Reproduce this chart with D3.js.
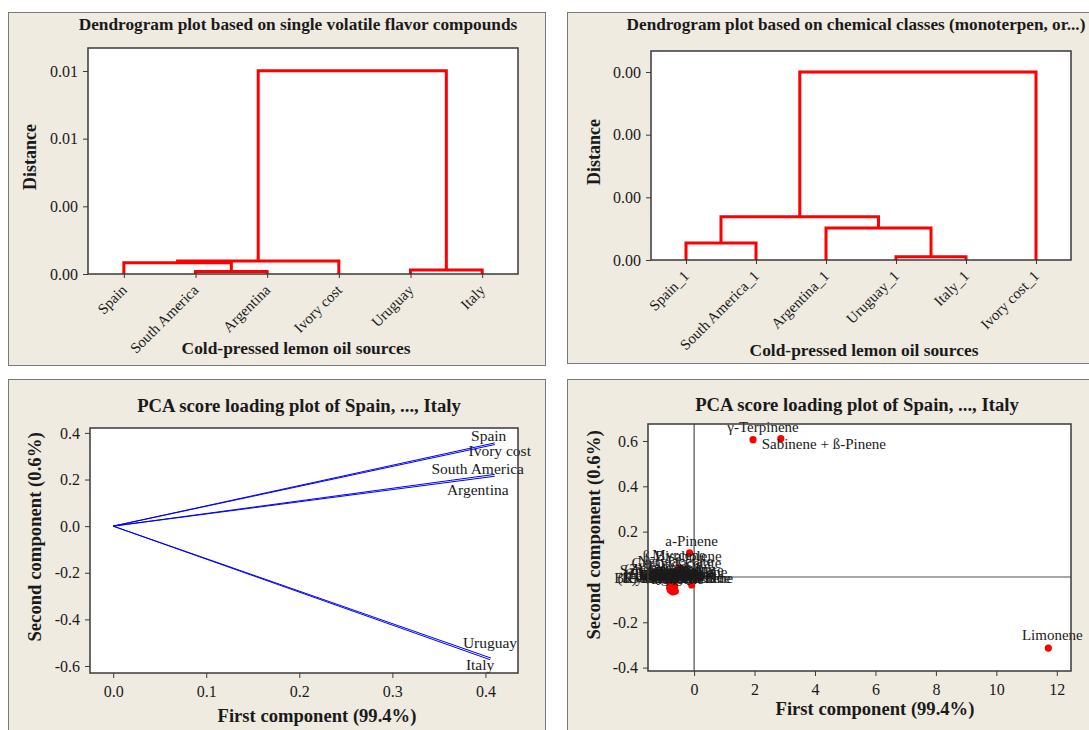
<!DOCTYPE html>
<html>
<head>
<meta charset="utf-8">
<script src="https://cdn.jsdelivr.net/npm/d3@7"></script>
<style>
  body { margin: 0; background: #fff; }
  text { font-family: "Liberation Serif", "Times New Roman", serif; fill: #1a1a1a; }
</style>
</head>
<body>
<div id="app"></div>
<script>
// dendrogram 1 : single volatile flavor compounds
const leaves1 = ["Spain", "South America", "Argentina", "Ivory cost", "Uruguay", "Italy"];
// [left, right, distance] ; numbers point at an earlier merge
const merges1 = [
  ["South America", "Argentina", 0.00015],
  ["Spain", 0, 0.00066],
  [1, "Ivory cost", 0.00077],
  ["Uruguay", "Italy", 0.00024],
  [2, 3, 0.01202],
];
const yTicks1 = [0, 0.004, 0.008, 0.012];

// dendrogram 2 : chemical classes
const leaves2 = ["Spain_1", "South America_1", "Argentina_1", "Uruguay_1", "Italy_1", "Ivory cost_1"];
const merges2 = [
  ["Spain_1", "South America_1", 0.00027],
  ["Uruguay_1", "Italy_1", 0.00005],
  ["Argentina_1", 1, 0.00051],
  [0, 2, 0.00069],
  [3, "Ivory cost_1", 0.003],
];
const yTicks2 = [0, 0.001, 0.002, 0.003];

// PCA loadings
const sources = ["Spain", "Ivory cost", "South America", "Argentina", "Uruguay", "Italy"];
const loadPC1 = [0.410, 0.410, 0.410, 0.410, 0.406, 0.405];
const loadPC2 = [0.357, 0.350, 0.222, 0.214, -0.566, -0.573];
const loadXTicks = [0, 0.1, 0.2, 0.3, 0.4];
const loadYTicks = [-0.6, -0.4, -0.2, 0, 0.2, 0.4];

// PCA scores
const compounds = ["Limonene", "γ-Terpinene", "Sabinene + ß-Pinene", "a-Pinene", "ß-Bisabolene",
  "Myrcene", "Nerylacetate", "Geranylacetate", "Geranial", "Neral", "Terpinolene",
  "(E)-ß-Ocimene", "Citronellal", "Linalool", "Octanal", "Nonanal", "Decanal", "Camphene",
  "p-Cymene", "a-Thujene", "ß-Caryophyllene", "(E)-a-Bergamotene", "a-Terpineol",
  "Terpinen-4-ol", "Germacrene D", "Valencene", "Sabinene hydrate", "Nerol", "Geraniol",
  "Citronellol", "Undecanal", "Dodecanal", "(Z)-ß-Ocimene", "Bicyclogermacrene"];
const scorePC1 = [11.72, 1.95, 2.87, -0.15, -0.40, -0.50, -0.62, -0.58, -0.66, -0.72, -0.08,
  -0.80, -0.78, -0.76, -0.80, -0.79, -0.77, -0.75, -0.74, -0.76, -0.70, -0.62, -0.66,
  -0.68, -0.72, -0.70, -0.74, -0.64, -0.69, -0.73, -0.79, -0.77, -0.81, -0.71];
const scorePC2 = [-0.314, 0.606, 0.611, 0.106, 0.035, 0.040, 0.012, 0.006, -0.020, -0.025, -0.035,
  -0.045, -0.030, -0.040, -0.050, -0.055, -0.060, -0.050, -0.035, -0.045, -0.058, -0.063, -0.050,
  -0.045, -0.062, -0.066, -0.028, -0.040, -0.033, -0.052, -0.038, -0.048, -0.022, -0.060];
const scoreXTicks = [0, 2, 4, 6, 8, 10, 12];
const scoreYTicks = [-0.4, -0.2, 0.2, 0.4, 0.6];

const svg = d3.create("svg")
  .attr("width", 1089)
  .attr("height", 730)
  .attr("viewBox", [0, 0, 1089, 730]);

function panel(x, y, w, h) {
  svg.append("rect")
    .attr("x", x + 0.5).attr("y", y + 0.5)
    .attr("width", w).attr("height", h)
    .attr("fill", "#efebe1")
    .attr("stroke", "#7a7a7a");
}

function plotBg(b) {
  svg.append("rect")
    .attr("x", b.left).attr("y", b.top)
    .attr("width", b.right - b.left).attr("height", b.bottom - b.top)
    .attr("fill", "#fff");
}

function plotBorder(b) {
  svg.append("rect")
    .attr("x", b.left).attr("y", b.top)
    .attr("width", b.right - b.left).attr("height", b.bottom - b.top)
    .attr("fill", "none")
    .attr("stroke", "#3a3a3a")
    .attr("stroke-width", 1.5);
}

function styleAxis(g) {
  g.select(".domain").remove();
  g.selectAll(".tick line").attr("stroke", "#3a3a3a");
  g.selectAll(".tick text")
    .attr("font-size", 16)
    .attr("font-family", "Liberation Serif, Times New Roman, serif")
    .attr("fill", "#1a1a1a");
}

function title(txt, x, y, size) {
  svg.append("text")
    .attr("x", x).attr("y", y)
    .attr("text-anchor", "middle")
    .attr("font-weight", "bold")
    .attr("font-size", size)
    .text(txt);
}

function yTitle(txt, x, y, size) {
  svg.append("text")
    .attr("transform", `translate(${x},${y}) rotate(-90)`)
    .attr("text-anchor", "middle")
    .attr("font-weight", "bold")
    .attr("font-size", size)
    .text(txt);
}

function dendrogram(b, leaves, merges, ticks, top, fmt) {
  plotBg(b);
  const x = d3.scalePoint().domain(leaves).range([b.left, b.right]).padding(0.5);
  const y = d3.scaleLinear().domain([0, top]).range([b.bottom, b.top]);

  const nodes = [];
  const get = (k) => (typeof k === "number" ? nodes[k] : { x: x(k), h: 0 });
  merges.forEach((m) => {
    const a = get(m[0]);
    const c = get(m[1]);
    const p = d3.path();
    p.moveTo(a.x, y(a.h));
    p.lineTo(a.x, y(m[2]));
    p.lineTo(c.x, y(m[2]));
    p.lineTo(c.x, y(c.h));
    svg.append("path")
      .attr("d", p.toString())
      .attr("fill", "none")
      .attr("stroke", "#ff0000")
      .attr("stroke-width", 3);
    nodes.push({ x: (a.x + c.x) / 2, h: m[2] });
  });

  plotBorder(b);

  svg.append("g")
    .attr("transform", `translate(${b.left},0)`)
    .call(d3.axisLeft(y).tickValues(ticks).tickFormat(fmt).tickSize(5).tickPadding(5))
    .call(styleAxis);

  svg.append("g")
    .attr("transform", `translate(0,${b.bottom})`)
    .call(d3.axisBottom(x).tickSize(4).tickFormat(""))
    .call(styleAxis);

  svg.append("g")
    .selectAll("text")
    .data(leaves)
    .join("text")
    .attr("transform", (d) => `translate(${x(d) + 4},${b.bottom + 17}) rotate(-45)`)
    .attr("text-anchor", "end")
    .attr("font-size", 15)
    .text((d) => d);
}

// ---- top left
panel(8, 12, 537, 353);
const b1 = { left: 88, right: 518, top: 48, bottom: 274 };
dendrogram(b1, leaves1, merges1, yTicks1, 0.01336, (d) => d.toFixed(2));
title("Dendrogram plot based on single volatile flavor compounds", 298, 30, 17.3);
yTitle("Distance", 36, 157, 18);
title("Cold-pressed lemon oil sources", 296, 354, 17.4);

// ---- top right
panel(567, 12, 540, 351);
const b2 = { left: 651, right: 1071, top: 51, bottom: 260 };
dendrogram(b2, leaves2, merges2, yTicks2, 0.003335, (d) => d.toFixed(2));
title("Dendrogram plot based on chemical classes (monoterpen, or...)", 856, 30, 17.2);
yTitle("Distance", 600, 152, 18);
title("Cold-pressed lemon oil sources", 864, 356, 17.4);

// ---- bottom left : loadings
panel(8, 379, 537, 360);
const b3 = { left: 90, right: 518, top: 428, bottom: 673 };
plotBg(b3);
const x3 = d3.scaleLinear().domain([-0.0249, 0.435]).range([b3.left, b3.right]);
const y3 = d3.scaleLinear().domain([-0.63, 0.421]).range([b3.bottom, b3.top]);

const loads = sources.map((s, i) => ({ name: s, pc1: loadPC1[i], pc2: loadPC2[i] }));
svg.append("g")
  .selectAll("line")
  .data(loads)
  .join("line")
  .attr("x1", x3(0)).attr("y1", y3(0))
  .attr("x2", (d) => x3(d.pc1)).attr("y2", (d) => y3(d.pc2))
  .attr("stroke", "#0000ff")
  .attr("stroke-width", 1);

const loadNudge = {
  "Spain": [-6, -2], "Ivory cost": [5, 11], "South America": [-17, 0],
  "Argentina": [-17, 19], "Uruguay": [-1, -10], "Italy": [-10, 10],
};
svg.append("g")
  .selectAll("text")
  .data(loads)
  .join("text")
  .attr("x", (d) => x3(d.pc1) + loadNudge[d.name][0])
  .attr("y", (d) => y3(d.pc2) + loadNudge[d.name][1])
  .attr("text-anchor", "middle")
  .attr("font-size", 15.5)
  .text((d) => d.name);

plotBorder(b3);
svg.append("g")
  .attr("transform", `translate(${b3.left},0)`)
  .call(d3.axisLeft(y3).tickValues(loadYTicks).tickFormat((d) => d.toFixed(1)).tickSize(5).tickPadding(5))
  .call(styleAxis);
svg.append("g")
  .attr("transform", `translate(0,${b3.bottom})`)
  .call(d3.axisBottom(x3).tickValues(loadXTicks).tickFormat((d) => d.toFixed(1)).tickSize(5).tickPadding(8))
  .call(styleAxis);

title("PCA score loading plot of Spain, ..., Italy", 299, 412, 18.7);
yTitle("Second component (0.6%)", 41, 537, 18.7);
title("First component (99.4%)", 317, 722, 18.6);

// ---- bottom right : scores
panel(567, 379, 540, 360);
const b4 = { left: 648, right: 1071, top: 424, bottom: 671 };
plotBg(b4);
const x4 = d3.scaleLinear().domain([-1.525, 12.47]).range([b4.left, b4.right]);
const y4 = d3.scaleLinear().domain([-0.415, 0.675]).range([b4.bottom, b4.top]);

svg.append("line")
  .attr("x1", b4.left).attr("x2", b4.right)
  .attr("y1", y4(0)).attr("y2", y4(0))
  .attr("stroke", "#8a8a8a").attr("stroke-width", 1.5);
svg.append("line")
  .attr("x1", x4(0)).attr("x2", x4(0))
  .attr("y1", b4.top).attr("y2", b4.bottom)
  .attr("stroke", "#2a2a2a").attr("stroke-width", 1);

const scores = compounds.map((c, i) => ({ name: c, pc1: scorePC1[i], pc2: scorePC2[i] }));
svg.append("g")
  .selectAll("circle")
  .data(scores)
  .join("circle")
  .attr("cx", (d) => x4(d.pc1))
  .attr("cy", (d) => y4(d.pc2))
  .attr("r", 3.6)
  .attr("fill", "#ff0000");

const scoreNudge = {
  "γ-Terpinene": [10, -8], "Sabinene + ß-Pinene": [43, 10], "Limonene": [4, -8],
  "a-Pinene": [2, -7],
};
svg.append("g")
  .selectAll("text")
  .data(scores)
  .join("text")
  .attr("x", (d) => x4(d.pc1) + (scoreNudge[d.name] ? scoreNudge[d.name][0] : 0))
  .attr("y", (d) => y4(d.pc2) + (scoreNudge[d.name] ? scoreNudge[d.name][1] : -8))
  .attr("text-anchor", "middle")
  .attr("font-size", 15)
  .text((d) => d.name);

svg.append("rect")
  .attr("x", b4.left).attr("y", b4.top)
  .attr("width", b4.right - b4.left).attr("height", b4.bottom - b4.top)
  .attr("fill", "none").attr("stroke", "#3a3a3a").attr("stroke-width", 1.5);
svg.append("g")
  .attr("transform", `translate(${b4.left},0)`)
  .call(d3.axisLeft(y4).tickValues(scoreYTicks).tickFormat((d) => d.toFixed(1)).tickSize(5).tickPadding(5))
  .call(styleAxis);
svg.append("g")
  .attr("transform", `translate(0,${b4.bottom})`)
  .call(d3.axisBottom(x4).tickValues(scoreXTicks).tickFormat((d) => d).tickSize(5).tickPadding(8))
  .call(styleAxis);

title("PCA score loading plot of Spain, ..., Italy", 857, 411, 18.7);
yTitle("Second component (0.6%)", 600, 535, 18.7);
title("First component (99.4%)", 875, 715, 18.6);

document.getElementById("app").append(svg.node());
</script>
</body>
</html>
